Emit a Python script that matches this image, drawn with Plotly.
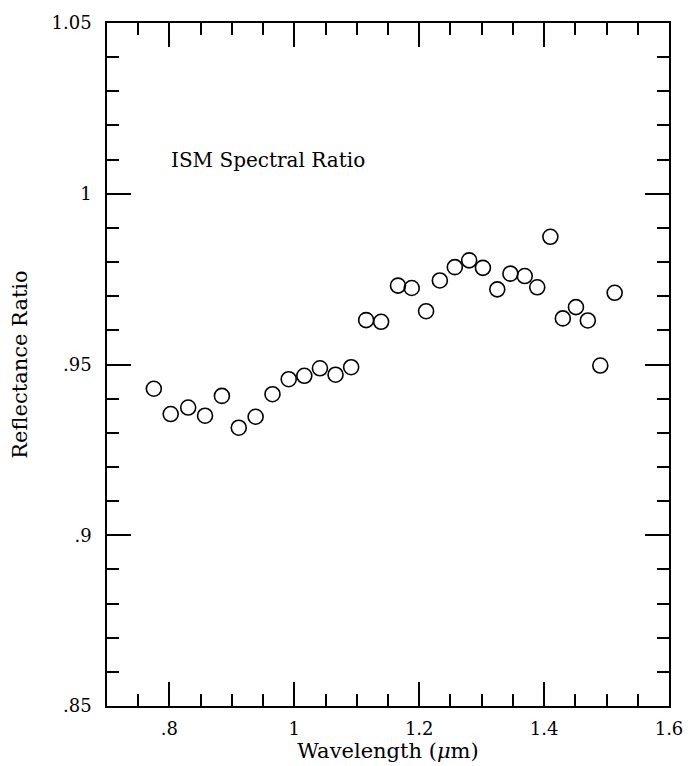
import plotly.graph_objects as go

# Data
wavelength = [0.775, 0.802, 0.830, 0.857, 0.884, 0.911, 0.938, 0.965, 0.991, 1.016,
              1.041, 1.066, 1.091, 1.115, 1.139, 1.166, 1.188, 1.211, 1.233, 1.257,
              1.280, 1.302, 1.325, 1.346, 1.369, 1.389, 1.410, 1.430, 1.451, 1.470,
              1.490, 1.513]
ratio = [0.9429, 0.9355, 0.9374, 0.9350, 0.9408, 0.9315, 0.9347, 0.9413, 0.9457, 0.9467,
         0.9489, 0.9470, 0.9492, 0.9630, 0.9625, 0.9731, 0.9724, 0.9656, 0.9746, 0.9785,
         0.9805, 0.9783, 0.9720, 0.9766, 0.9759, 0.9726, 0.9874, 0.9635, 0.9668, 0.9629,
         0.9497, 0.9710]

x_tickvals = [0.8, 1.0, 1.2, 1.4, 1.6]
x_ticktext = [".8", "1", "1.2", "1.4", "1.6"]
y_tickvals = [0.85, 0.9, 0.95, 1.0, 1.05]
y_ticktext = [".85", ".9", ".95", "1", "1.05"]

FONT = "DejaVu Serif"

fig = go.Figure()
fig.add_trace(go.Scatter(
    x=wavelength, y=ratio, mode="markers",
    marker=dict(symbol="circle-open", size=15, color="black", line=dict(width=1.6, color="black")),
    showlegend=False,
))

fig.add_annotation(x=0.8, y=1.01, xref="x", yref="y", text="ISM Spectral Ratio",
                   showarrow=False, xanchor="left", yanchor="middle",
                   font=dict(family=FONT, size=20, color="black"))

axis_common = dict(
    showgrid=False, zeroline=False, showline=True, linecolor="black", linewidth=1.5,
    ticks="inside", ticklen=24, tickwidth=1.5, tickcolor="black", mirror="allticks",
    tickfont=dict(family=FONT, size=18, color="black"),
)

fig.update_xaxes(
    range=[0.7, 1.6], tickvals=x_tickvals, ticktext=x_ticktext,
    ticklabelstandoff=6,
    minor=dict(tickvals=[0.75, 0.85, 0.9, 0.95, 1.05, 1.1, 1.15, 1.25, 1.3, 1.35, 1.45, 1.5, 1.55],
               ticks="inside", ticklen=12, tickwidth=1.5, tickcolor="black"),
    title=dict(text="Wavelength (<i>μ</i>m)", font=dict(family=FONT, size=21, color="black"), standoff=0),
    **axis_common,
)
fig.update_yaxes(
    range=[0.85, 1.05], tickvals=y_tickvals, ticktext=y_ticktext,
    ticklabelstandoff=10,
    minor=dict(dtick=0.01, tick0=0.85, ticks="inside", ticklen=12, tickwidth=1.5, tickcolor="black"),
    title=dict(text="Reflectance Ratio", font=dict(family=FONT, size=21, color="black"), standoff=18),
    **axis_common,
)

fig.update_layout(
    width=695, height=766,
    margin=dict(l=107, r=18, t=20, b=59),
    plot_bgcolor="white", paper_bgcolor="white",
)

fig.write_html("out.html")
